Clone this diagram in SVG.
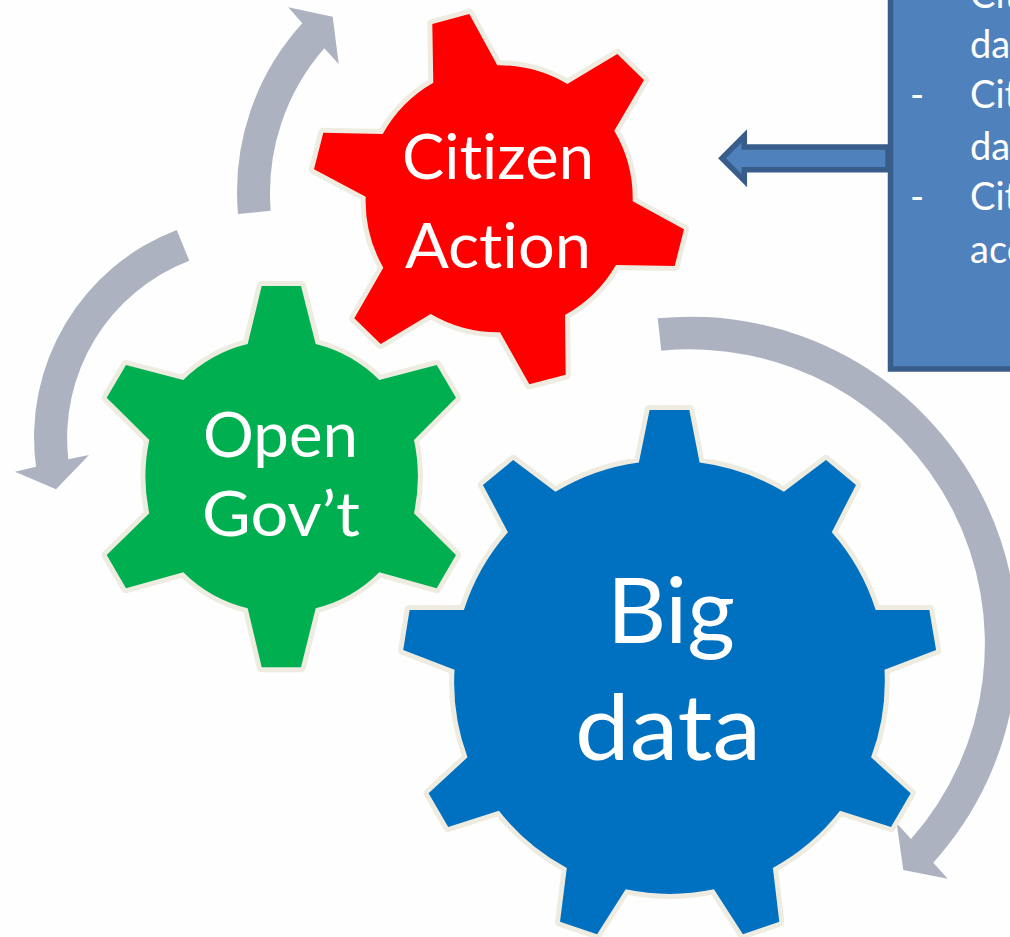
<svg xmlns="http://www.w3.org/2000/svg" width="1010" height="937" viewBox="0 0 1010 937">
<style>
.gear{stroke:#eeece1;stroke-width:10;stroke-linejoin:round;paint-order:stroke}
.flow{fill:#adb2c0}
.lbl{font-family:"Lato","Liberation Sans",sans-serif;fill:#fff;font-variant-ligatures:none}
.box{fill:#4f81bd;stroke:#385d8a;stroke-width:5.5;stroke-linejoin:miter}
.t{font-family:"Lato","Liberation Sans",sans-serif;fill:#fff;font-size:38px;font-variant-ligatures:none}
</style>
<rect width="1010" height="937" fill="#fefefe"/>
<g id="connectors">
<path class="flow" d="M238 214A250 250 0 0 1 302.3 23.3L288.3 7.3L332.7 16.7L338.7 64L324.3 48.3A220 220 0 0 0 270.7 210.7Z"/>
<path class="flow" d="M176.700 230A222 222 0 0 0 36 466.700L15 471.700L56 489.300L89 455L68.300 459.300A190 190 0 0 1 189.300 260.700Z"/>
<path class="flow" d="M657.700 318.300A327 327 0 0 1 933.300 862.700L947.700 878.700L903.300 870L896.700 823.300L911 839A294.600 294.600 0 0 0 661.300 350.700Z"/>
<path class="box" d="M888 147H744.300V136L722 158.300L744.300 180.600V169.700H888Z"/>
</g>
<g id="info-box">
<rect class="box" x="890.500" y="-20" width="200" height="389"/>
<text class="t" x="970" y="8">Cit</text>
<text class="t" x="970" y="58">da</text>
<text class="t" x="910" y="108">-</text>
<text class="t" x="970" y="108">Cit</text>
<text class="t" x="970" y="160">da</text>
<text class="t" x="910" y="210">-</text>
<text class="t" x="970" y="210">Cit</text>
<text class="t" x="970" y="263">acc</text>
</g>
<g id="gear-big-data">
<path class="gear" fill="#0070c0" d="M649.600 409.900H689.300L699.600 462.400A217 217 0 0 1 783.900 491.800L826 460L856 484.900L831.800 532.200A217 217 0 0 1 875.700 610H929.300L936.100 650.100L884.500 669.800A217 217 0 0 1 871.100 757.300L910.700 793.200L891 827.100L840 810.800A217 217 0 0 1 772.900 867.900L779.300 921.800L742.900 934.200L713.900 889.300A217 217 0 0 1 625.700 889.300L597.100 934.200L560 921.800L566.800 867.900A217 217 0 0 1 498.900 810.800L448.200 827.100L428.600 793.200L467.500 757.300A217 217 0 0 1 454.500 669.800L403.200 650.100L409.600 610H463.900A217 217 0 0 1 507.900 532.200L482.900 484.900L513.200 460L555.400 491.800A217 217 0 0 1 638.900 462.400Z"/>
<text class="lbl" x="607" y="642.800" font-size="92" textLength="128" lengthAdjust="spacingAndGlyphs">Big</text>
<text class="lbl" x="575" y="760.400" font-size="92" textLength="186" lengthAdjust="spacingAndGlyphs">data</text>
</g>
<g id="gear-open-govt">
<path class="gear" fill="#00b050" d="M261.700 286H301L315.700 344A137 137 0 0 1 379.300 380L436.700 365L456 397.700L414 440A175 175 0 0 1 414 513.300L456 555L436.700 588.300L379.300 572.300A137 137 0 0 1 315.700 608.300L301 667.300H261.700L247.700 608.300A137 137 0 0 1 183.300 572.300L126 588.300L106.700 555L149.300 513.300A175 175 0 0 1 149.300 440L106.700 397.700L126 365L183.300 380A137 137 0 0 1 247.700 344Z"/>
<text class="lbl" x="203" y="456.700" font-size="62" textLength="155" lengthAdjust="spacingAndGlyphs">Open</text>
<text class="lbl" x="202" y="535.700" font-size="62" textLength="158" lengthAdjust="spacingAndGlyphs">Gov’t</text>
</g>
<g id="gear-citizen-action">
<path class="gear" fill="#ff0000" d="M432.300 24L469.300 14L497.300 65.300A134 134 0 0 1 567.300 84L617.300 54L644 80L614.300 130.700A134 134 0 0 1 632.700 201.300L684 229.300L674.700 266L616 265A134 134 0 0 1 565 315L565.700 374.700L529.300 384.300L500 332.300A134 134 0 0 1 430.700 314L380.700 344L354.300 318.300L383.300 267.700A134 134 0 0 1 365.700 196.700L314 169.300L323.300 132.700L382.700 134A134 134 0 0 1 433.300 82.700Z"/>
<text class="lbl" x="402" y="179.300" font-size="61" textLength="192" lengthAdjust="spacingAndGlyphs">Citizen</text>
<text class="lbl" x="405" y="267.700" font-size="61" textLength="186" lengthAdjust="spacingAndGlyphs">Action</text>
</g>
</svg>
